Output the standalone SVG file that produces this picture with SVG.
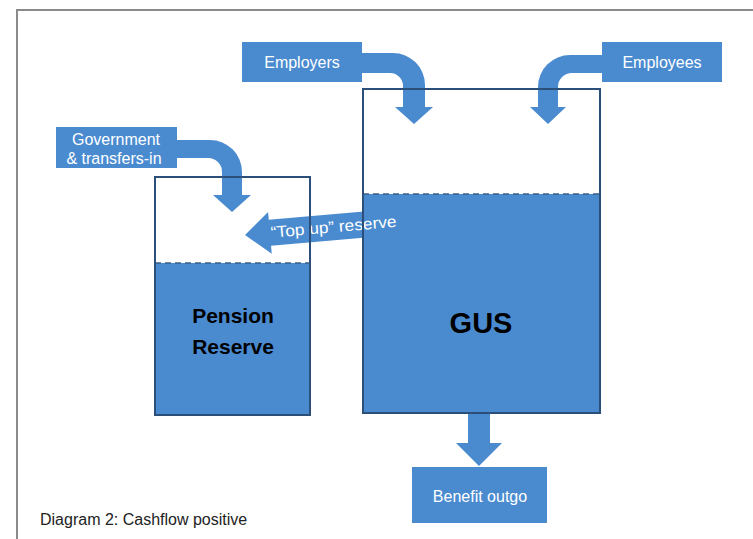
<svg xmlns="http://www.w3.org/2000/svg" width="753" height="539" viewBox="0 0 753 539">
  <style>
    .flow { fill: #4a8bd0; }
    .water { fill: #4a8bd0; }
    .tank { fill: none; stroke: #2b4f78; stroke-width: 2; }
    .level { stroke: #3a5f86; stroke-width: 1.5; stroke-dasharray: 6 4; }
    .lbl { font-family: "Liberation Sans", Arial, sans-serif; font-size: 16px; fill: #ffffff; }
    .big { font-family: "Liberation Sans", Arial, sans-serif; font-weight: bold; fill: #000000; text-anchor: middle; }
    .cap { font-family: "Liberation Sans", Arial, sans-serif; font-size: 16px; fill: #222222; }
  </style>
  <rect x="0" y="0" width="753" height="539" fill="#ffffff"/>
  <path d="M17,539 L17,10 L753,10" fill="none" stroke="#8a8a8a" stroke-width="2"/>

  <!-- water fills -->
  <g id="pension-reserve">
    <rect class="water" x="155" y="263" width="155" height="152"/>
    <line class="level" x1="155" y1="263" x2="310" y2="263"/>
    <text class="big" font-size="21" x="233" y="323">Pension</text>
    <text class="big" font-size="21" x="233" y="354">Reserve</text>
  </g>
  <g id="gus">
    <rect class="water" x="363" y="194" width="237" height="219"/>
    <line class="level" x1="363" y1="194" x2="600" y2="194"/>
    <text class="big" font-size="29" x="481" y="333">GUS</text>
  </g>

  <g id="connectors">
    <!-- Employers -> GUS -->
    <path class="flow" d="M361,53 L393,53 A32,32 0 0 1 425,85 L425,107 L433,107 L414,124 L395,107 L403,107 L403,85 A13,13 0 0 0 390,73 L361,73 Z"/>
    <!-- Employees -> GUS -->
    <path class="flow" d="M603,55 L570,55 A32,32 0 0 0 538,87 L538,107 L530,107 L548,124 L566,107 L558,107 L558,87 A14,14 0 0 1 572,73 L603,73 Z"/>
    <!-- Government -> Pension Reserve -->
    <path class="flow" d="M176,140 L210,140 A32,32 0 0 1 242,172 L242,195 L251,195 L232,212 L213,195 L222,195 L222,172 A14,14 0 0 0 208,158 L176,158 Z"/>
    <!-- GUS -> Benefit outgo -->
    <path class="flow" d="M468,413 L490,413 L490,443 L502,443 L479,466 L456,443 L468,443 Z"/>
    <!-- Top up reserve -->
    <g transform="translate(245,235) rotate(-5)">
      <path class="flow" d="M0,0 L25,-21 L25,-13 L158,-13 L158,13 L25,13 L25,21 Z"/>
      <text class="lbl" font-size="15" x="26" y="5" textLength="126" lengthAdjust="spacingAndGlyphs">“Top up” reserve</text>
    </g>
  </g>

  <!-- tank outlines on top -->
  <rect class="tank" x="155" y="177" width="155" height="238"/>
  <rect class="tank" x="363" y="89" width="237" height="324"/>

  <g id="employers">
    <rect class="flow" x="242" y="42" width="120" height="40"/>
    <text class="lbl" x="302" y="68" text-anchor="middle">Employers</text>
  </g>
  <g id="employees">
    <rect class="flow" x="602" y="42" width="120" height="40"/>
    <text class="lbl" x="662" y="68" text-anchor="middle">Employees</text>
  </g>
  <g id="government">
    <rect class="flow" x="56" y="127" width="121" height="41"/>
    <text class="lbl" x="116" y="145" text-anchor="middle">Government</text>
    <text class="lbl" x="114" y="164" text-anchor="middle">&amp; transfers-in</text>
  </g>
  <g id="benefit-outgo">
    <rect class="flow" x="412" y="467" width="135" height="56"/>
    <text class="lbl" x="480" y="502" text-anchor="middle">Benefit outgo</text>
  </g>

  <text class="cap" x="40" y="525">Diagram 2: Cashflow positive</text>
</svg>
